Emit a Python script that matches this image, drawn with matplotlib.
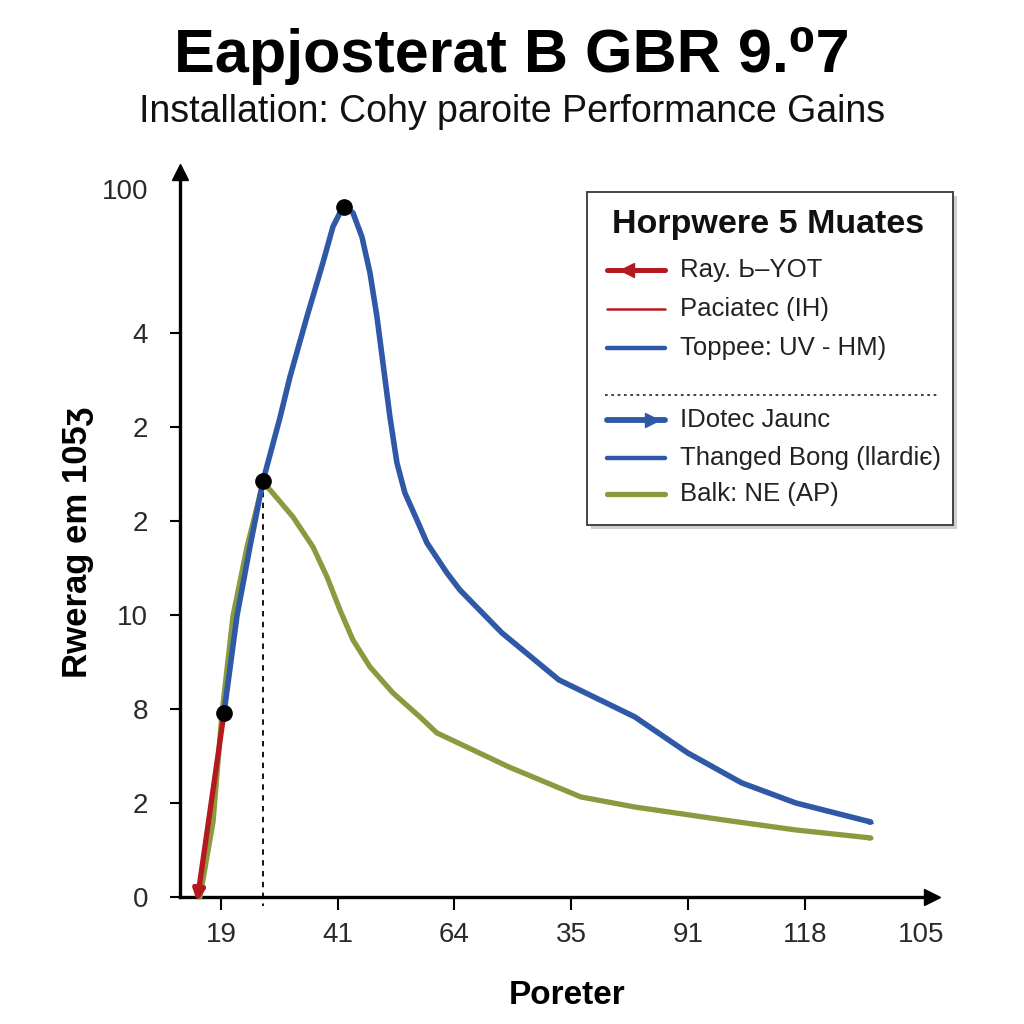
import matplotlib
matplotlib.use("Agg")
import matplotlib.pyplot as plt
import numpy as np

plt.rcParams['font.family'] = ['Liberation Sans', 'DejaVu Sans']

# tick labels (positions are evenly spaced, labels are as printed)
x_labels = ["19", "41", "64", "35", "91", "118", "105"]
y_labels = ["0", "2", "8", "10", "2", "2", "4", "100"]
y_label_pos = [0, 1, 2, 3, 4, 5, 6, 7.53]

# curves
red_x = [0.026, -0.205]
red_y = [1.957, 0.0]

blue_x = [0.026, 0.137, 0.248, 0.360, 0.505, 0.591, 0.736, 0.873, 0.959, 1.019,
          1.053, 1.130, 1.207, 1.276, 1.336, 1.387, 1.447, 1.507, 1.575, 1.678,
          1.764, 1.935, 2.046, 2.406, 2.894, 3.545, 3.998, 4.461, 4.923, 5.565]
blue_y = [1.957, 2.989, 3.723, 4.426, 5.096, 5.532, 6.170, 6.745, 7.128, 7.277,
          7.340, 7.277, 7.021, 6.638, 6.170, 5.681, 5.106, 4.617, 4.298, 4.011,
          3.766, 3.447, 3.266, 2.809, 2.309, 1.915, 1.532, 1.213, 1.000, 0.798]

olive_x = [-0.180, -0.068, 0.009, 0.103, 0.223, 0.360, 0.420, 0.616, 0.788, 0.908,
           1.019, 1.130, 1.276, 1.473, 1.704, 1.849, 2.466, 3.082, 3.545, 4.307,
           4.923, 5.565]
olive_y = [0.0, 0.798, 1.957, 2.989, 3.723, 4.404, 4.330, 4.043, 3.723, 3.404,
           3.053, 2.734, 2.447, 2.170, 1.915, 1.745, 1.383, 1.064, 0.957, 0.819,
           0.713, 0.628]

dots_x = [0.026, 0.360, 1.053]
dots_y = [1.957, 4.426, 7.340]

legend_title = "Horpwere 5 Muates"
legend_labels = ["Ray. Ь\u2013YOT", "Paciatec (IH)", "Toppee: UV - HM)",
                 "IDotec Jaunc", "Thanged Bong (llardi\u0454)", "Balk: NE (AP)"]

RED = "#b3191e"
BLUE = "#2f58a6"
OLIVE = "#8a9a3e"

fig = plt.figure(figsize=(10.24, 10.24), dpi=100)
ax = fig.add_axes([180/1024, 127/1024, 752/1024, 725/1024])

ax.plot(olive_x, olive_y, color=OLIVE, lw=3.8, solid_joinstyle='round',
        solid_capstyle='round', zorder=3, clip_on=False)
ax.plot(blue_x, blue_y, color=BLUE, lw=4.0, solid_joinstyle='round',
        solid_capstyle='round', zorder=4, clip_on=False)
ax.annotate("", xy=(red_x[1], red_y[1] - 0.05), xytext=(red_x[0], red_y[0]),
            arrowprops=dict(arrowstyle='-|>', color=RED, lw=3.8,
                            mutation_scale=16, shrinkA=0, shrinkB=0),
            zorder=5, annotation_clip=False)
# small heads at line ends
ax.annotate("", xy=(blue_x[-1] + 0.03, blue_y[-1] - 0.02),
            xytext=(blue_x[-2], blue_y[-2]),
            arrowprops=dict(arrowstyle='-|>', color=BLUE, lw=0,
                            mutation_scale=10, shrinkA=60, shrinkB=0), zorder=4)
ax.annotate("", xy=(olive_x[-1] + 0.03, olive_y[-1] - 0.01),
            xytext=(olive_x[-2], olive_y[-2]),
            arrowprops=dict(arrowstyle='-|>', color=OLIVE, lw=0,
                            mutation_scale=10, shrinkA=60, shrinkB=0), zorder=3)

ax.plot(dots_x, dots_y, 'o', color='black', ms=11, zorder=6, clip_on=False)
ax.plot([dots_x[1], dots_x[1]], [dots_y[1], -0.1], color='black', lw=1.3,
        dashes=(3, 3), zorder=2, clip_on=False)

ax.set_xlim(-0.351, 6.09)
ax.set_ylim(0, 7.71)
for s in ['top', 'right']:
    ax.spines[s].set_visible(False)
for s in ['left', 'bottom']:
    ax.spines[s].set_linewidth(2.4)
ax.plot(1, 0, '>', color='black', ms=11, transform=ax.transAxes, clip_on=False)
ax.plot(0, 1, '^', color='black', ms=11, transform=ax.transAxes, clip_on=False)

ax.set_xticks(range(len(x_labels)))
ax.set_xticklabels(x_labels, fontsize=20, color='#2a2a2a')
ax.set_yticks(y_label_pos)
ax.set_yticklabels(y_labels, fontsize=20, color='#2a2a2a')
ax.tick_params(axis='x', length=9, width=1.5, pad=9)
ax.tick_params(axis='y', length=7, width=1.5, pad=16)
ax.xaxis.get_major_ticks()[-1].tick1line.set_visible(False)
ax.yaxis.get_major_ticks()[-1].tick1line.set_visible(False)

fig.text(0.5, 1 - 56/1024, "Eapjosterat B GBR 9.\u20707", ha='center', va='center',
         fontsize=44, fontweight='bold')
fig.text(0.5, 1 - 112/1024, "Installation: Cohy paroite Performance Gains",
         ha='center', va='center', fontsize=27, color='#111111')
fig.text(78/1024, 1 - 543/1024, "Rwerag em 105\u0292", rotation=90, ha='center',
         va='center', fontsize=25, fontweight='bold')
fig.text(567/1024, 1 - 996/1024, "Poreter", ha='center', va='center',
         fontsize=24, fontweight='bold')

# legend box drawn in pixel coordinates
lg = fig.add_axes([0, 0, 1, 1], zorder=10)
lg.set_xlim(0, 1024)
lg.set_ylim(1024, 0)
lg.axis('off')
lg.add_patch(plt.Rectangle((591, 196), 366, 333, color='#b0b0b0', lw=0, alpha=0.6))
lg.add_patch(plt.Rectangle((587, 192), 366, 333, facecolor='white',
                           edgecolor='#444444', lw=1.4))
lg.text(768, 224, legend_title, ha='center', va='center', fontsize=24.5,
        fontweight='bold', color='#111111')
rows_y = [270, 309, 348, 420, 458, 494]
styles = [(RED, 3.6), (RED, 1.8), (BLUE, 3.2), (BLUE, 4.2), (BLUE, 3.2), (OLIVE, 3.8)]
for yy, lab, (c, w) in zip(rows_y, legend_labels, styles):
    lg.plot([607, 665], [yy, yy], color=c, lw=w, solid_capstyle='round')
    lg.text(680, yy, lab, ha='left', va='center', fontsize=18.5, color='#222222')
lg.plot([627], [rows_y[0]], '<', color=RED, ms=10)
lg.plot([652], [rows_y[3]], '>', color=BLUE, ms=10)
lg.plot([605, 940], [395, 395], color='#333333', lw=1.3, ls=(0, (1.5, 2)))

fig.savefig("out.png", dpi=100, facecolor='white')
